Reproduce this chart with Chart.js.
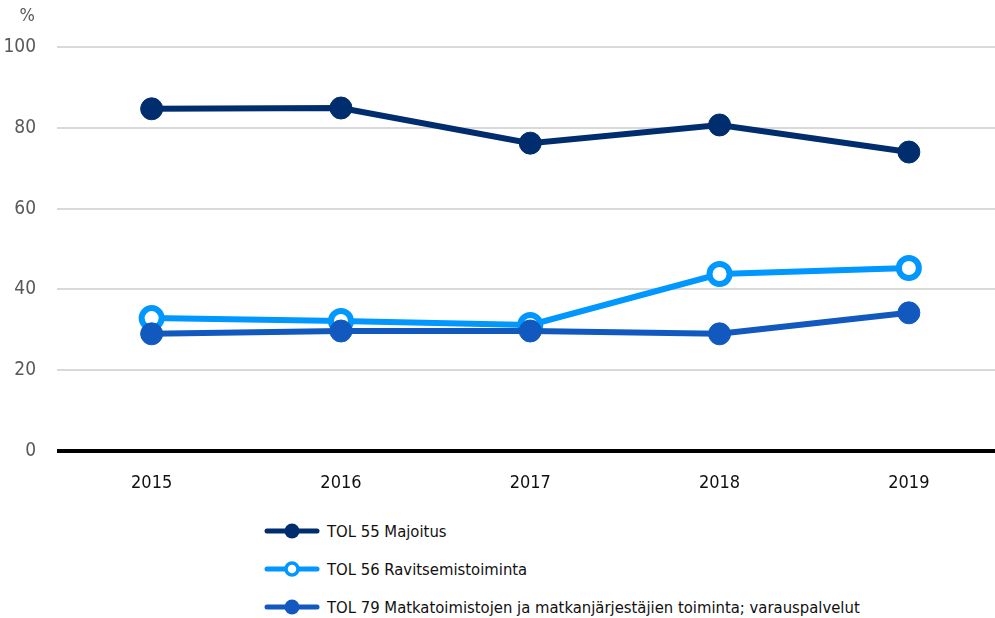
<!DOCTYPE html>
<html>
<head>
<meta charset="utf-8">
<script src="https://cdn.jsdelivr.net/npm/chart.js@4"></script>
<style>
  html, body { margin: 0; padding: 0; background: #fff; overflow: hidden; }
  body { width: 995px; height: 618px; position: relative;
         font-family: "DejaVu Sans Condensed", "Liberation Sans Narrow", "Roboto", sans-serif; }
  #chart { position: absolute; left: 0; top: 0; }
  #legend { position: absolute; left: 264px; top: 512px; }
  .item { display: flex; align-items: center; height: 38px; font-size: 16.5px; color: #111; }
  .mark { width: 56px; height: 20px; margin-right: 7px; }
</style>
</head>
<body>
<canvas id="chart" width="995" height="505"></canvas>
<div id="legend"></div>
<script>
// Data
const years = [2015, 2016, 2017, 2018, 2019];
const yTicks = [0, 20, 40, 60, 80, 100];
const seriesNames = [
    'TOL 55 Majoitus',
    'TOL 56 Ravitsemistoiminta',
    'TOL 79 Matkatoimistojen ja matkanjärjestäjien toiminta; varauspalvelut'
];
const majoitus = [84.7, 84.9, 76.2, 80.7, 74.0];
const ravitsemis = [32.9, 32.2, 31.2, 43.8, 45.3];
const matkatoimistot = [29.0, 29.7, 29.7, 29.0, 34.2];

const colors = ['#002d6e', '#0097ff', '#1159be'];
const fontFamily = '"DejaVu Sans Condensed", "Liberation Sans Narrow", sans-serif';

function toPoints(values) {
    return years.map((y, i) => ({ x: y, y: values[i] }));
}

// Draws the "%" unit label above the y axis
const unitLabel = {
    id: 'unitLabel',
    afterDraw(chart) {
        const yScale = chart.scales.y;
        const ctx = chart.ctx;
        ctx.save();
        ctx.font = '18px ' + fontFamily;
        ctx.fillStyle = '#595959';
        ctx.textAlign = 'right';
        ctx.textBaseline = 'middle';
        ctx.fillText('%', yScale.right - 22, yScale.top - 31);
        ctx.restore();
    }
};

const datasets = [
    { label: seriesNames[0], data: toPoints(majoitus), borderColor: colors[0], backgroundColor: colors[0],
      pointBackgroundColor: colors[0], pointBorderColor: colors[0], pointRadius: 11, pointBorderWidth: 1, order: 0 },
    { label: seriesNames[1], data: toPoints(ravitsemis), borderColor: colors[1], backgroundColor: colors[1],
      pointBackgroundColor: '#ffffff', pointBorderColor: colors[1], pointRadius: 10, pointBorderWidth: 6, order: 2 },
    { label: seriesNames[2], data: toPoints(matkatoimistot), borderColor: colors[2], backgroundColor: colors[2],
      pointBackgroundColor: colors[2], pointBorderColor: colors[2], pointRadius: 11, pointBorderWidth: 1, order: 1 }
];
datasets.forEach(ds => { ds.borderWidth = 6; ds.tension = 0; ds.fill = false; });

new Chart(document.getElementById('chart'), {
    type: 'line',
    data: { datasets: datasets },
    plugins: [unitLabel],
    options: {
        responsive: false,
        animation: false,
        devicePixelRatio: 1,
        layout: { autoPadding: false, padding: { top: 47, right: 0, bottom: 0, left: 0 } },
        plugins: { legend: { display: false }, tooltip: { enabled: false } },
        scales: {
            x: {
                type: 'linear',
                min: 2014.5,
                max: 2019.455,
                afterBuildTicks: scale => { scale.ticks = years.map(v => ({ value: v })); },
                afterFit: scale => { scale.height = 54; },
                grid: { display: false, drawTicks: false },
                border: { display: false },
                ticks: {
                    color: '#111111',
                    font: { family: fontFamily, size: 18 },
                    padding: 22,
                    callback: v => String(v)
                }
            },
            y: {
                min: 0,
                max: 100,
                afterBuildTicks: scale => { scale.ticks = yTicks.map(v => ({ value: v })); },
                afterFit: scale => { scale.width = 57; },
                grid: {
                    drawTicks: false,
                    color: c => c.tick && c.tick.value === 0 ? '#000000' : '#d9d9d9',
                    lineWidth: c => c.tick && c.tick.value === 0 ? 4 : 2
                },
                border: { display: false },
                ticks: {
                    color: '#595959',
                    font: { family: fontFamily, size: 19 },
                    padding: 21
                }
            }
        }
    }
});

// HTML legend stacked under the chart, built from the same series
const legend = document.getElementById('legend');
datasets.forEach((ds, i) => {
    const hollow = i === 1;
    const row = document.createElement('div');
    row.className = 'item';
    row.innerHTML =
        '<svg class="mark" viewBox="0 0 56 20">' +
        '<line x1="3" y1="10" x2="53" y2="10" stroke="' + colors[i] + '" stroke-width="5" stroke-linecap="round"/>' +
        '<circle cx="28" cy="10" r="' + (hollow ? 6 : 7.5) + '" fill="' + (hollow ? '#fff' : colors[i]) +
        '" stroke="' + colors[i] + '" stroke-width="' + (hollow ? 3.5 : 0) + '"/></svg>' +
        '<span>' + ds.label + '</span>';
    legend.appendChild(row);
});
</script>
</body>
</html>
